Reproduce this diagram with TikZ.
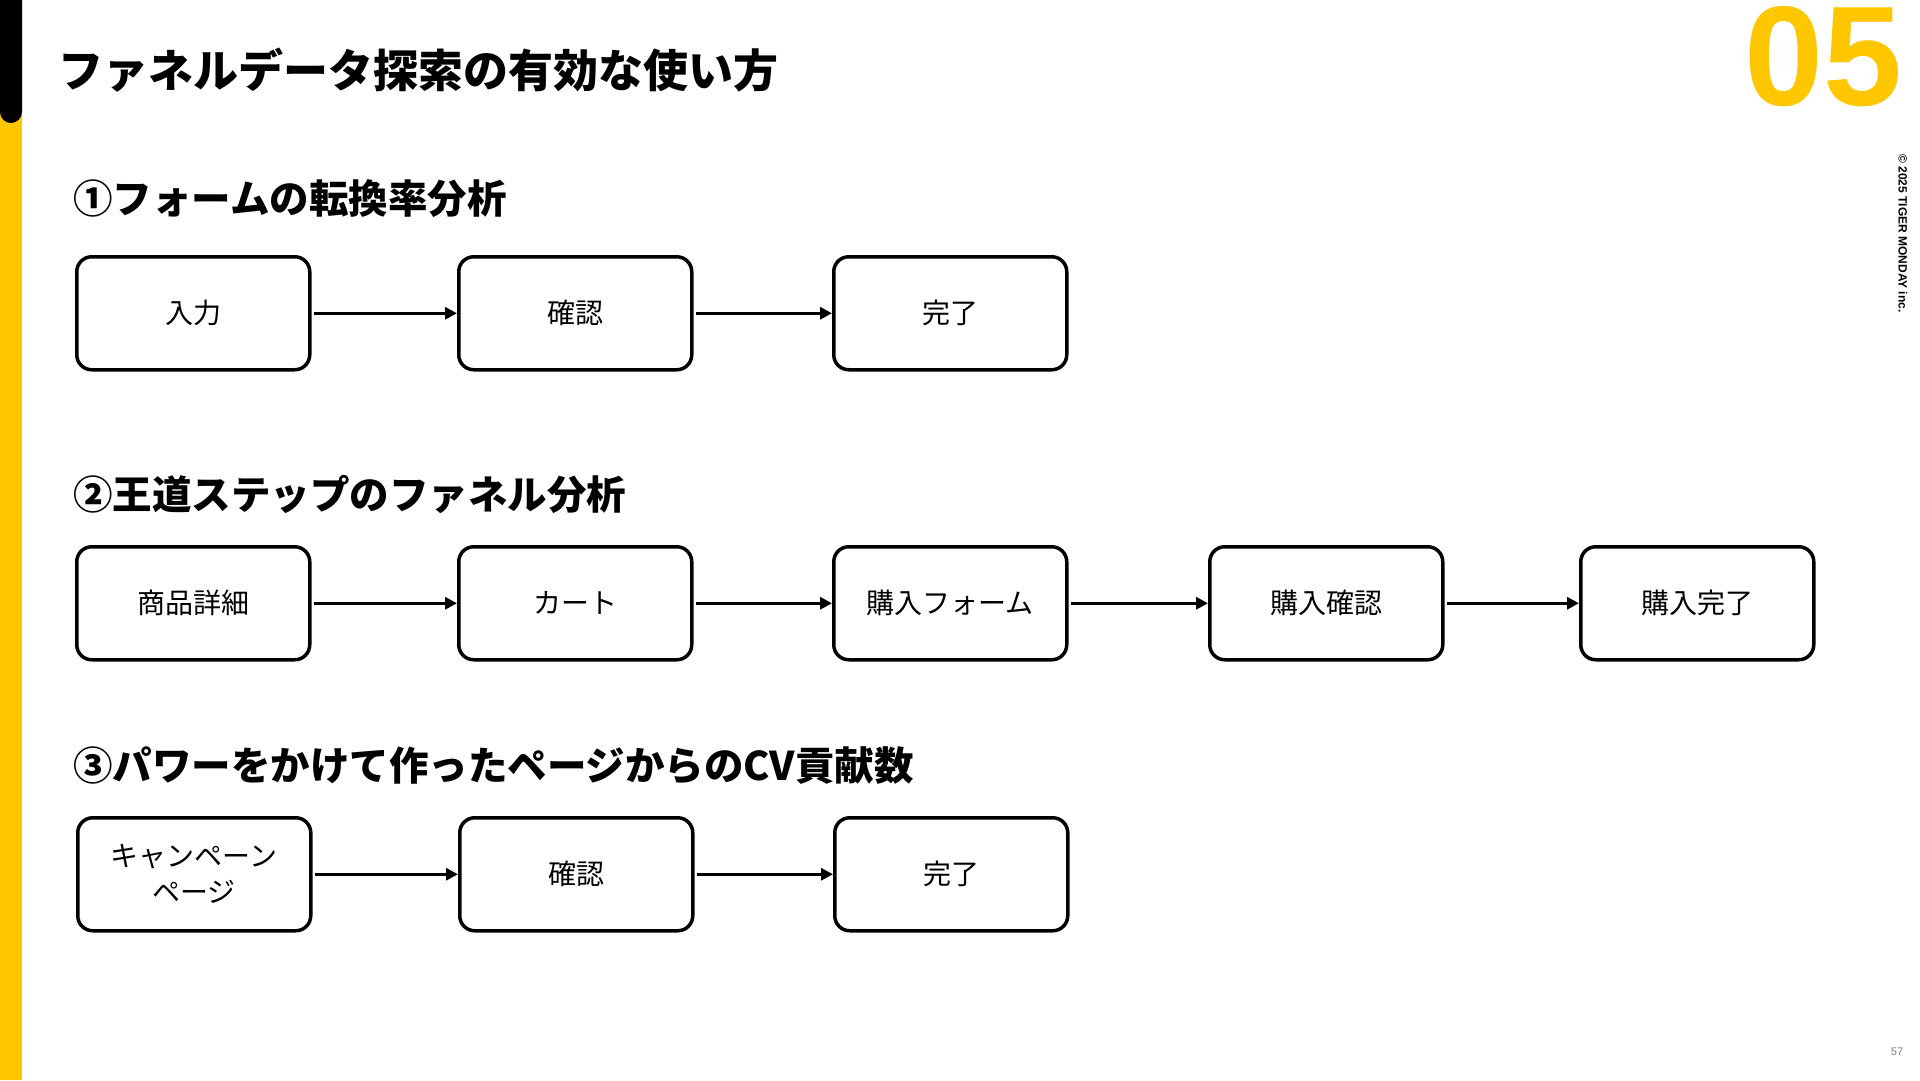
\documentclass[tikz,border=0pt]{standalone}
\usepackage{fontspec}
\setmainfont{Noto Sans CJK JP}
\newfontfamily\lib{Liberation Sans}
\usetikzlibrary{arrows.meta}
\definecolor{ty}{HTML}{FFC700}
\begin{document}
\begin{tikzpicture}[x=1pt,y=-1pt,
 box/.style={draw=black,line width=3.5pt,rounded corners=15pt,minimum width=233pt,minimum height=113pt,anchor=north west,font=\fontsize{28}{36}\selectfont,align=center,inner sep=0pt},
 arr/.style={line width=3.5pt,-{Triangle[length=12pt,width=12pt]},shorten <=2pt},
 head/.style={anchor=west,font=\bfseries\fontsize{39.5}{46}\selectfont,inner sep=0pt}]
\useasboundingbox (0,0) rectangle (1920,1080);
\fill[ty] (0,0) rectangle (22,1080);
\fill[black] (0,0) -- (22,0) -- (22,112) arc[start angle=0,end angle=180,radius=11] -- cycle;
\node[anchor=west,inner sep=0pt,font=\bfseries\fontsize{45}{52}\selectfont] (title) at (58,70) {ファネルデータ探索の有効な使い方};
\node[anchor=north east,inner sep=0pt,text=ty,font=\lib\bfseries\fontsize{142}{142}\selectfont] (num) at (1903,6) {05};
\node[rotate=-90,anchor=west,inner sep=0pt,font=\lib\bfseries\fontsize{12}{14}\selectfont] (copy) at (1903,154) {© 2025 TIGER MONDAY inc.};
\node[text=gray,font=\lib\fontsize{11}{13}\selectfont,inner sep=0pt] (pg) at (1897,1052) {57};

\node[head] (h1) at (73,199) {①フォームの転換率分析};
\node[head] (h2) at (73,494) {②王道ステップのファネル分析};
\node[head] (h3) at (73,766) {③パワーをかけて作ったページからのCV貢献数};

\node[box] (a1) at (75,255) {入力};
\node[box] (a2) at (457,255) {確認};
\node[box] (a3) at (832,255) {完了};
\draw[arr] (a1) -- (a2); \draw[arr] (a2) -- (a3);

\node[box] (b1) at (75,545) {商品詳細};
\node[box] (b2) at (457,545) {カート};
\node[box] (b3) at (832,545) {購入フォーム};
\node[box] (b4) at (1208,545) {購入確認};
\node[box] (b5) at (1579,545) {購入完了};
\draw[arr] (b1) -- (b2); \draw[arr] (b2) -- (b3); \draw[arr] (b3) -- (b4); \draw[arr] (b4) -- (b5);

\node[box] (c1) at (76,816) {キャンペーン\\ページ};
\node[box] (c2) at (458,816) {確認};
\node[box] (c3) at (833,816) {完了};
\draw[arr] (c1) -- (c2); \draw[arr] (c2) -- (c3);
\end{tikzpicture}
\end{document}
